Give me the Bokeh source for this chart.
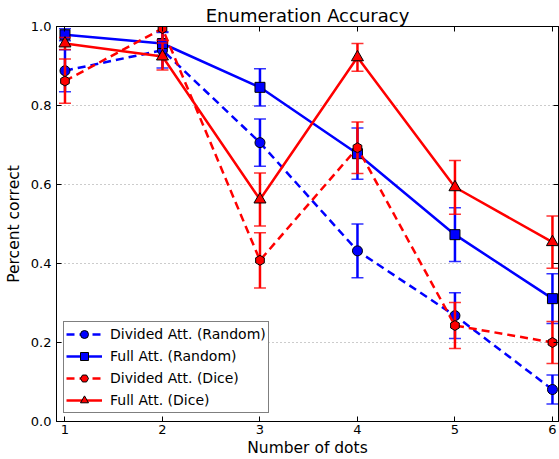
import numpy as np
from bokeh.plotting import figure
from bokeh.models import (Range1d, FixedTicker, PrintfTickFormatter, LinearAxis,
                          Legend, LegendItem, ColumnDataSource,
                          CustomJSTickFormatter)
from bokeh.embed import file_html
from bokeh.resources import INLINE

# ---- data ----
n_dots = [1, 2, 3, 4, 5, 6]
div_random = [0.888, 0.940, 0.706, 0.432, 0.268, 0.081]
div_random_err = [0.053, 0.045, 0.060, 0.068, 0.058, 0.037]
full_random = [0.979, 0.957, 0.846, 0.678, 0.473, 0.311]
full_random_err = [0.015, 0.030, 0.047, 0.065, 0.068, 0.063]
div_dice = [0.862, 0.995, 0.408, 0.693, 0.243, 0.200]
div_dice_err = [0.056, 0.030, 0.070, 0.065, 0.058, 0.053]
full_dice = [0.957, 0.924, 0.562, 0.922, 0.593, 0.454]
full_dice_err = [0.015, 0.034, 0.067, 0.035, 0.068, 0.066]

series_labels = ["Divided Att. (Random)", "Full Att. (Random)",
                 "Divided Att. (Dice)", "Full Att. (Dice)"]
y_ticks = [0.0, 0.2, 0.4, 0.6, 0.8, 1.0]

FONT = "DejaVu Sans"
BLUE = "#0000ff"
RED = "#ff0000"

x0, x1 = 0.913, 6.062
p = figure(width=559, height=459, output_backend="svg", toolbar_location=None,
           x_range=Range1d(x0, x1), y_range=Range1d(0, 1),
           min_border_left=56, min_border_right=1, min_border_top=26,
           min_border_bottom=38, title="Enumeration Accuracy")
p.background_fill_color = "white"
p.border_fill_color = "white"
p.outline_line_color = "black"
p.outline_line_width = 1

p.title.align = "center"
p.title.text_font = FONT
p.title.text_font_size = "18px"
p.title.text_font_style = "normal"
p.title.text_color = "black"
p.title.standoff = 2
p.title.offset = 0

# axes
p.xaxis.ticker = FixedTicker(ticks=n_dots)
p.yaxis.ticker = FixedTicker(ticks=y_ticks)
p.yaxis.formatter = PrintfTickFormatter(format="%.1f")
for ax in (p.xaxis[0], p.yaxis[0]):
    ax.major_tick_in = 5
    ax.major_tick_out = 0
    ax.minor_tick_line_color = None
    ax.axis_line_color = "black"
    ax.major_tick_line_color = "black"
    ax.major_label_text_font = FONT
    ax.major_label_text_font_size = "13px"
    ax.major_label_text_color = "black"
    ax.axis_label_text_font = FONT
    ax.axis_label_text_font_size = "15.5px"
    ax.axis_label_text_font_style = "normal"
    ax.axis_label_text_color = "black"
p.xaxis.axis_label = "Number of dots"
p.yaxis.axis_label = "Percent correct"
p.xaxis.major_label_standoff = 3
p.xaxis.axis_label_standoff = 2
p.yaxis.major_label_standoff = 5
p.yaxis.axis_label_standoff = 5

blank = CustomJSTickFormatter(code="return ''")
top_ax = LinearAxis(ticker=FixedTicker(ticks=n_dots), formatter=blank,
                    major_label_standoff=0, major_tick_in=5, major_tick_out=0,
                    minor_tick_line_color=None, axis_line_color="black")
right_ax = LinearAxis(ticker=FixedTicker(ticks=y_ticks), formatter=blank,
                      major_label_standoff=0, major_tick_in=5, major_tick_out=0,
                      minor_tick_line_color=None, axis_line_color="black")
p.add_layout(top_ax, "above")
p.add_layout(right_ax, "right")

p.xgrid.visible = False
p.ygrid.grid_line_color = "#999999"
p.ygrid.grid_line_dash = "1 3"
p.ygrid.grid_line_width = 1

# ---- series ----
specs = [
    (div_random, div_random_err, BLUE, "8 5", "circle", 10, 0.0),
    (full_random, full_random_err, BLUE, "solid", "square", 10, 0.0),
    (div_dice, div_dice_err, RED, "8 5", "hex", 10, np.pi / 6),
    (full_dice, full_dice_err, RED, "solid", "triangle", 12, 0.0),
]

items = []
for (vals, errs, color, dash, marker, msize, ang), label in zip(specs, series_labels):
    v = np.array(vals)
    e = np.array(errs)
    src = ColumnDataSource(dict(x=n_dots, y=vals, lo=list(v - e), hi=list(v + e)))
    p.segment(x0="x", y0="lo", x1="x", y1="hi", source=src, line_color=color, line_width=2.5)
    p.scatter(x="x", y="lo", source=src, marker="dash", size=12, line_color=color,
              line_width=1.5, line_alpha=0.8)
    p.scatter(x="x", y="hi", source=src, marker="dash", size=12, line_color=color,
              line_width=1.5, line_alpha=0.8)
    ln = p.line(x="x", y="y", source=src, line_color=color, line_width=2.5, line_dash=dash)
    mk = p.scatter(x="x", y="y", source=src, marker=marker, size=msize, angle=ang,
                   fill_color=color, line_color="black", line_width=1)
    items.append(LegendItem(label=label, renderers=[ln, mk]))

legend = Legend(items=items, location=(7, 8))
legend.border_line_color = "black"
legend.border_line_width = 1
legend.background_fill_color = "white"
legend.background_fill_alpha = 1
legend.padding = 2
legend.spacing = 2
legend.margin = 0
legend.glyph_width = 36
legend.glyph_height = 20
legend.label_height = 20
legend.label_standoff = 8
legend.label_text_font = FONT
legend.label_text_font_size = "14px"
legend.label_text_color = "black"
p.add_layout(legend, "center")

open("out.html", "w").write(file_html(p, INLINE))
